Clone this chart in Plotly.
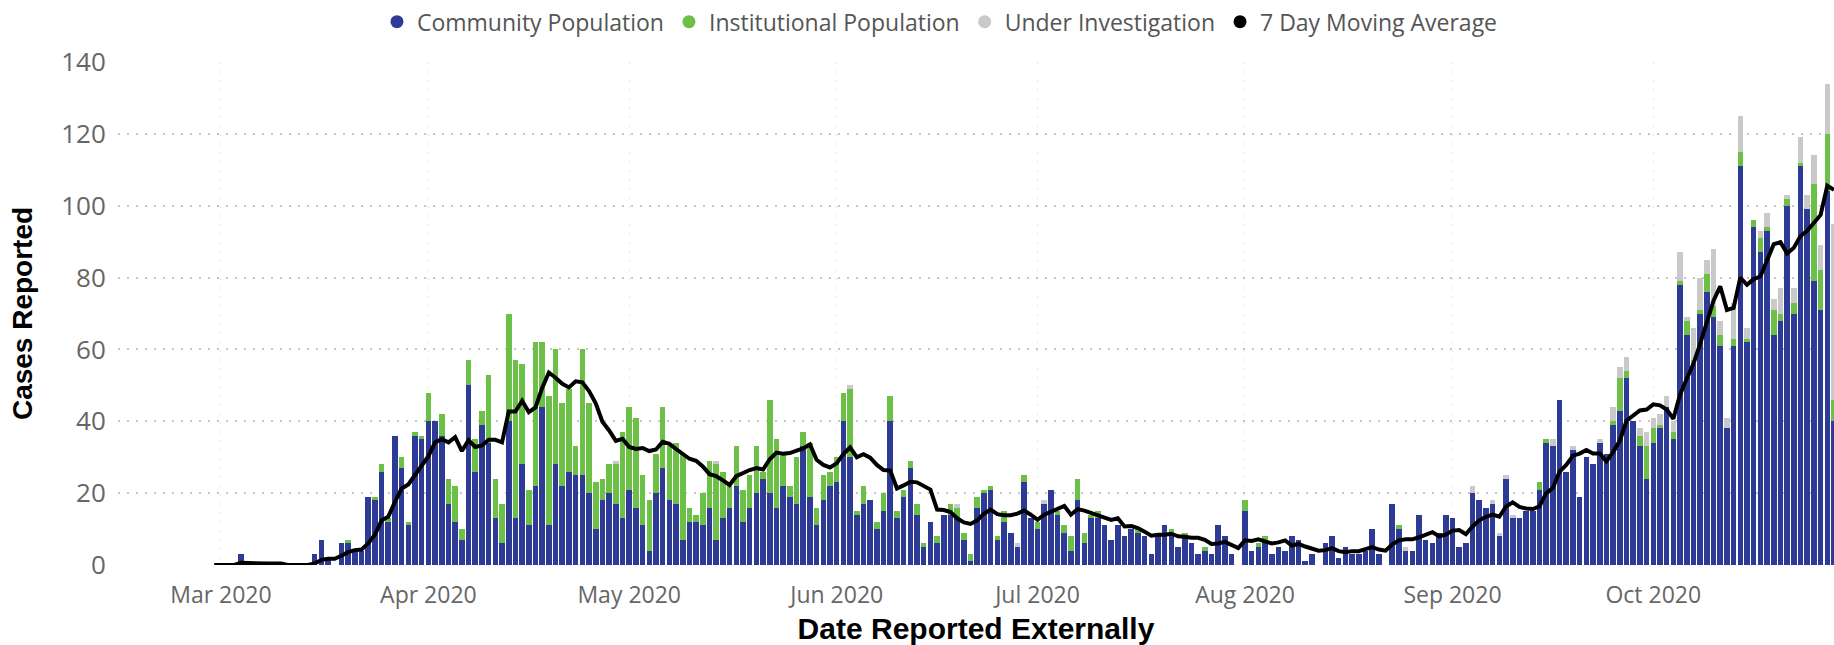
import pandas as pd
import plotly.graph_objects as go

# ---------------- data (daily cases) ----------------
start_date = "2020-02-29"
end_date = "2020-10-28"

community_feb = [0]
institutional_feb = [0]
investigation_feb = [0]

community_mar = [0, 0, 0, 3, 0, 0, 0, 0, 0, 0, 0, 0, 0, 0, 3, 7, 2, 0, 6, 6, 4, 4, 19, 18, 26, 12, 36, 27, 11, 36, 35]
institutional_mar = [0, 0, 0, 0, 0, 0, 0, 0, 0, 0, 0, 0, 0, 0, 0, 0, 0, 0, 0, 1, 0, 0, 0, 1, 2, 1, 0, 3, 1, 1, 1]
investigation_mar = [0, 0, 0, 0, 0, 0, 0, 0, 0, 0, 0, 0, 0, 0, 0, 0, 0, 0, 0, 0, 0, 0, 0, 0, 0, 0, 0, 0, 0, 0, 0]

community_apr = [40, 40, 36, 17, 12, 7, 50, 26, 39, 34, 13, 6, 40, 13, 28, 11, 22, 44, 11, 28, 22, 26, 25, 25, 20, 10, 18, 20, 17, 13]
institutional_apr = [8, 0, 6, 7, 10, 3, 7, 9, 4, 19, 11, 11, 30, 44, 28, 10, 40, 18, 36, 32, 23, 23, 8, 35, 25, 13, 6, 8, 11, 24]
investigation_apr = [0, 0, 0, 0, 0, 0, 0, 0, 0, 0, 0, 0, 0, 0, 0, 0, 0, 0, 0, 0, 0, 0, 0, 0, 0, 0, 0, 0, 1, 0]

community_may = [21, 16, 11, 4, 20, 27, 18, 17, 7, 12, 12, 11, 16, 7, 13, 16, 22, 12, 16, 20, 24, 20, 16, 22, 19, 17, 33, 19, 11, 18, 22]
institutional_may = [23, 25, 14, 14, 11, 17, 15, 17, 24, 4, 2, 9, 13, 21, 13, 6, 11, 9, 9, 13, 2, 26, 19, 9, 3, 13, 4, 15, 5, 7, 4]
investigation_may = [0, 0, 0, 0, 0, 0, 0, 0, 0, 0, 0, 0, 0, 1, 0, 0, 0, 0, 0, 0, 0, 0, 0, 0, 0, 0, 0, 0, 0, 0, 0]

community_jun = [23, 40, 30, 14, 17, 18, 10, 15, 40, 13, 19, 27, 14, 5, 12, 6, 14, 14, 13, 7, 1, 16, 20, 21, 7, 12, 9, 5, 23, 13]
institutional_jun = [7, 8, 19, 1, 5, 0, 2, 5, 7, 2, 2, 2, 3, 1, 0, 2, 0, 3, 3, 2, 2, 3, 1, 1, 1, 3, 0, 0, 2, 0]
investigation_jun = [0, 0, 1, 0, 0, 0, 0, 0, 0, 0, 0, 0, 0, 0, 0, 0, 0, 0, 1, 0, 0, 0, 0, 0, 0, 0, 0, 1, 0, 0]

community_jul = [10, 17, 21, 14, 9, 4, 18, 6, 13, 13, 11, 7, 11, 8, 10, 9, 8, 3, 9, 11, 8, 5, 8, 6, 3, 4, 3, 11, 8, 3, 0]
institutional_jul = [2, 0, 0, 1, 2, 4, 6, 3, 1, 2, 0, 0, 0, 0, 0, 1, 0, 0, 0, 0, 2, 0, 1, 0, 0, 1, 0, 0, 0, 0, 0]
investigation_jul = [0, 1, 0, 0, 0, 0, 0, 0, 0, 0, 0, 0, 0, 0, 0, 0, 0, 0, 0, 0, 0, 0, 0, 0, 0, 0, 0, 0, 0, 0, 0]

community_aug = [15, 4, 5, 7, 3, 5, 4, 8, 7, 1, 3, 0, 6, 8, 2, 5, 3, 3, 4, 10, 3, 0, 17, 10, 4, 4, 14, 7, 6, 9, 14]
institutional_aug = [3, 0, 1, 1, 0, 0, 0, 0, 0, 0, 0, 0, 0, 0, 0, 0, 0, 0, 0, 0, 0, 0, 0, 1, 0, 0, 0, 0, 0, 0, 0]
investigation_aug = [0, 0, 0, 0, 0, 0, 0, 0, 0, 0, 0, 0, 0, 0, 0, 0, 0, 0, 0, 0, 0, 0, 0, 0, 1, 0, 0, 0, 0, 0, 0]

community_sep = [13, 5, 6, 20, 18, 16, 17, 8, 24, 13, 13, 15, 15, 21, 34, 33, 46, 26, 32, 19, 30, 28, 34, 31, 39, 43, 52, 40, 33, 24]
institutional_sep = [0, 0, 0, 0, 0, 0, 0, 0, 0, 0, 0, 0, 0, 2, 1, 0, 0, 0, 0, 0, 0, 0, 0, 0, 1, 9, 2, 0, 3, 9]
investigation_sep = [0, 0, 0, 2, 0, 0, 1, 1, 1, 1, 0, 0, 0, 0, 0, 2, 0, 0, 1, 0, 0, 0, 1, 0, 4, 3, 4, 0, 2, 4]

community_oct = [34, 38, 44, 35, 78, 64, 56, 70, 76, 69, 61, 38, 61, 111, 62, 94, 87, 93, 64, 68, 100, 70, 111, 99, 79, 71, 104, 40]
institutional_oct = [4, 1, 0, 2, 1, 4, 1, 1, 5, 3, 3, 0, 2, 4, 1, 2, 4, 1, 7, 2, 2, 3, 1, 0, 27, 11, 16, 6]
investigation_oct = [3, 3, 3, 3, 8, 1, 9, 9, 4, 16, 4, 3, 10, 10, 3, 0, 2, 4, 3, 7, 1, 4, 7, 4, 8, 7, 14, 49]

series_names = ["Community Population", "Institutional Population", "Under Investigation", "7 Day Moving Average"]
series_colors = ["#2E3B96", "#6CBF47", "#C9C9C9", "#000000"]
x_title = "Date Reported Externally"
y_title = "Cases Reported"

# ---------------- assemble ----------------
dates = pd.date_range(start_date, end_date, freq="D")
community = (community_feb + community_mar + community_apr + community_may + community_jun
             + community_jul + community_aug + community_sep + community_oct)
institutional = (institutional_feb + institutional_mar + institutional_apr + institutional_may
                 + institutional_jun + institutional_jul + institutional_aug + institutional_sep
                 + institutional_oct)
investigation = (investigation_feb + investigation_mar + investigation_apr + investigation_may
                 + investigation_jun + investigation_jul + investigation_aug + investigation_sep
                 + investigation_oct)

df = pd.DataFrame({"date": dates, "community": community,
                   "institutional": institutional, "investigation": investigation})
df["total"] = df["community"] + df["institutional"] + df["investigation"]
# trailing 7 day moving average of the daily totals (as the chart's line shows)
df["avg7"] = df["total"].rolling(7, min_periods=1).mean()

fig = go.Figure()
for col, name, color in zip(["community", "institutional", "investigation"], series_names[:3], series_colors[:3]):
    fig.add_trace(go.Bar(x=df["date"], y=df[col], name=name, marker=dict(color=color, line=dict(width=0)),
                         showlegend=False))
fig.add_trace(go.Scatter(x=df["date"], y=df["avg7"], name=series_names[3], mode="lines",
                         line=dict(color=series_colors[3], width=4), showlegend=False))

# legend entries with round markers
for name, color in zip(series_names, series_colors):
    fig.add_trace(go.Scatter(x=[None], y=[None], mode="markers", name=name,
                             marker=dict(color=color, size=13, symbol="circle")))

title_font_x = dict(family="Liberation Sans, Arial, sans-serif", size=30, color="#000000", weight="bold")
title_font_y = dict(family="Liberation Sans, Arial, sans-serif", size=28, color="#000000", weight="bold")

fig.update_layout(
    width=1834, height=645,
    margin=dict(l=118, r=0, t=59, b=80),
    paper_bgcolor="white", plot_bgcolor="white",
    barmode="stack", bargap=0.17,
    showlegend=True,
    legend=dict(orientation="h", x=0.479, xanchor="center", y=1.08, yanchor="middle",
                traceorder="normal",
                font=dict(family="Open Sans, Noto Sans, sans-serif", size=23, color="#555555"),
                itemwidth=30, tracegroupgap=0, bgcolor="rgba(0,0,0,0)"),
    xaxis=dict(
        type="date",
        range=["2020-02-14 15:00", "2020-10-28 00:00"],
        tick0="2020-03-01", dtick="M1", tickformat="%b %Y",
        showgrid=True, gridcolor="#E6E6E6", griddash="2px,7px", gridwidth=1,
        zeroline=False, showline=False,
        ticks="outside", ticklen=9, tickcolor="rgba(0,0,0,0)",
        tickfont=dict(family="Open Sans, Noto Sans, sans-serif", size=23, color="#666666"),
        title=dict(text=x_title, font=title_font_x, standoff=14),
    ),
    yaxis=dict(
        range=[0, 140], dtick=20,
        showgrid=True, gridcolor="#C4C4C4", griddash="2px,7px", gridwidth=1.5,
        zeroline=False, showline=False,
        ticks="outside", ticklen=6, tickcolor="rgba(0,0,0,0)",
        tickfont=dict(family="Open Sans, Noto Sans, sans-serif", size=26, color="#666666"),
        title=dict(text=y_title, font=title_font_y, standoff=20),
    ),
)

fig.write_html("out.html", config={"displayModeBar": False},
               post_script="document.body.style.margin='0px';")
